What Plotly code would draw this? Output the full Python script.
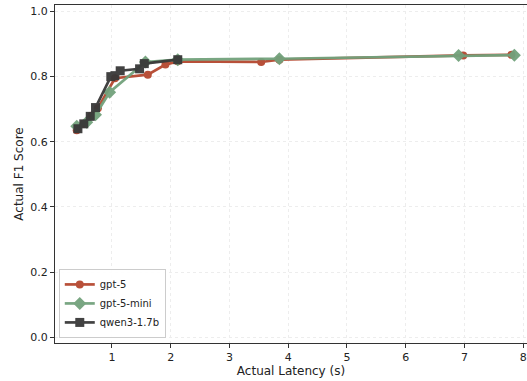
import plotly.graph_objects as go

gpt5_x = [0.40, 0.52, 0.65, 0.76, 1.05, 1.61, 1.91, 2.12, 3.54, 3.85, 6.98, 7.80]
gpt5_y = [0.635, 0.655, 0.680, 0.703, 0.795, 0.806, 0.837, 0.847, 0.845, 0.852, 0.865, 0.867]

mini_x = [0.40, 0.57, 0.72, 0.96, 1.57, 2.12, 3.85, 6.90, 7.85]
mini_y = [0.648, 0.660, 0.683, 0.752, 0.845, 0.852, 0.855, 0.865, 0.866]

qwen_x = [0.42, 0.52, 0.63, 0.72, 0.98, 1.05, 1.14, 1.47, 1.55, 2.12]
qwen_y = [0.640, 0.655, 0.678, 0.705, 0.800, 0.803, 0.818, 0.824, 0.840, 0.852]

series = [
    ("gpt-5", gpt5_x, gpt5_y, "#b5472f", "circle", 8),
    ("gpt-5-mini", mini_x, mini_y, "#72a27c", "diamond", 10),
    ("qwen3-1.7b", qwen_x, qwen_y, "#383838", "square", 9),
]

fig = go.Figure()
for name, xs, ys, col, sym, sz in series:
    fig.add_trace(go.Scatter(
        x=xs, y=ys, name=name, mode="lines+markers",
        line=dict(color=col, width=2.7),
        marker=dict(symbol=sym, size=sz, color=col),
        opacity=0.95,
    ))

fig.update_layout(
    width=527, height=381,
    margin=dict(l=55, r=0, t=5, b=38),
    plot_bgcolor="white", paper_bgcolor="white",
    font=dict(family="DejaVu Sans", size=11, color="#222"),
    showlegend=True,
    legend=dict(x=0.008, y=0.015, xanchor="left", yanchor="bottom",
                bgcolor="rgba(255,255,255,0.9)", bordercolor="#cccccc", borderwidth=1,
                font=dict(size=10), itemwidth=30, tracegroupgap=0),
)
fig.update_xaxes(
    range=[0.03, 8.065], tickvals=[1, 2, 3, 4, 5, 6, 7, 8], automargin=False,
    showgrid=True, gridcolor="#ededed", griddash="3px,3px", gridwidth=0.8,
    zeroline=False, showline=True, linecolor="#333", linewidth=1, mirror=True,
    ticks="outside", ticklen=4, tickcolor="#333",
    title=dict(text="Actual Latency (s)", font=dict(size=12), standoff=2),
)
fig.update_yaxes(
    range=[-0.018, 1.02], tickvals=[0, 0.2, 0.4, 0.6, 0.8, 1.0], tickformat=".1f", automargin=False,
    showgrid=True, gridcolor="#ededed", griddash="3px,3px", gridwidth=0.8,
    zeroline=False, showline=True, linecolor="#333", linewidth=1,
    ticks="outside", ticklen=4, tickcolor="#333",
    title=dict(text="Actual F1 Score", font=dict(size=12), standoff=4),
)
fig.write_html("out.html", config={"displayModeBar": False},
               post_script="document.body.style.margin='0';document.body.style.overflow='hidden';")
